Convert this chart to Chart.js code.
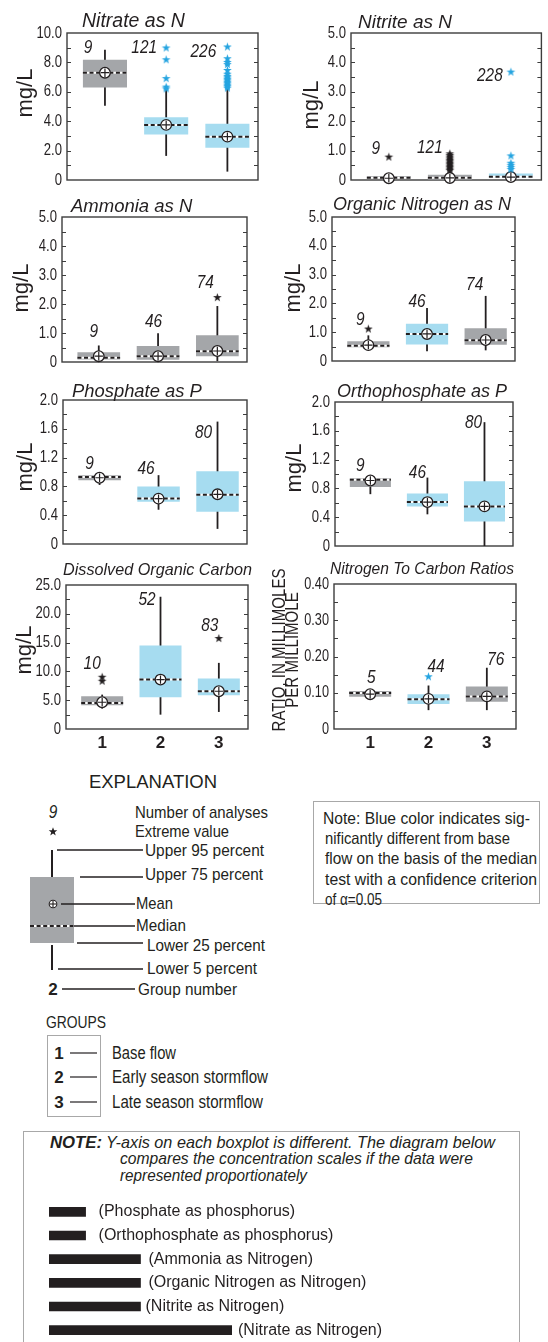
<!DOCTYPE html>
<html>
<head>
<meta charset="utf-8">
<script src="https://cdn.jsdelivr.net/npm/chart.js@4.4.1/dist/chart.umd.min.js"></script>
<style>
  html, body { margin: 0; padding: 0; background: #fff; }
  #page { position: relative; width: 548px; height: 1342px; overflow: hidden; background: #fff; }
  #page canvas { position: absolute; }
  #art { position: absolute; left: 0; top: 0; }
  .noteBox { position: absolute; left: 23px; top: 1131px; width: 497px; height: 230px;
             border: 1px solid #a8a8a8; box-sizing: border-box; }
</style>
</head>
<body>
<div id="page">
  <div class="noteBox"></div>
  <svg id="art" width="548" height="1342" viewBox="0 0 548 1342">
    <g fill="#231f20" font-family="'Liberation Sans',Arial,sans-serif" font-size="17" dominant-baseline="central">
      <!-- explanation key -->
      <text x="153" y="781" text-anchor="middle" font-size="18.5">EXPLANATION</text>
      <text x="53" y="812" text-anchor="middle" font-style="italic" font-size="17.5" transform="translate(53 0) scale(0.88 1) translate(-53 0)">9</text>
      <text x="135" y="812" textLength="133" lengthAdjust="spacingAndGlyphs">Number of analyses</text>
      <path d="M53,827.2 L54.1,830.2 L57.3,830.3 L54.8,832.3 L55.7,835.4 L53,833.6 L50.3,835.4 L51.2,832.3 L48.7,830.3 L51.9,830.2 Z"/>
      <text x="135" y="831" textLength="94" lengthAdjust="spacingAndGlyphs">Extreme value</text>
      <rect x="30" y="877" width="44" height="66" fill="#a4a6a9"/>
      <g stroke="#231f20" stroke-width="2">
        <line x1="52" y1="850" x2="52" y2="877"/>
        <line x1="52" y1="945" x2="52" y2="970"/>
      </g>
      <line x1="30" y1="926" x2="74" y2="926" stroke="#fff" stroke-width="2"/>
      <line x1="30" y1="926" x2="74" y2="926" stroke="#231f20" stroke-width="2" stroke-dasharray="4 2.6"/>
      <circle cx="53" cy="904" r="3.8" fill="#fff" stroke="#231f20" stroke-width="1.1"/>
      <g stroke="#231f20" stroke-width="1.1">
        <line x1="50" y1="904" x2="56" y2="904"/>
        <line x1="53" y1="901" x2="53" y2="907"/>
      </g>
      <g stroke="#231f20" stroke-width="1.3">
        <line x1="57" y1="850" x2="143" y2="850"/>
        <line x1="80" y1="877" x2="143" y2="877"/>
        <line x1="61" y1="904" x2="135" y2="904"/>
        <line x1="74" y1="926" x2="135" y2="926"/>
        <line x1="77" y1="943" x2="143" y2="943"/>
        <line x1="58" y1="969" x2="143" y2="969"/>
        <line x1="62" y1="989" x2="135" y2="989"/>
      </g>
      <text x="145" y="850" textLength="119" lengthAdjust="spacingAndGlyphs">Upper 95 percent</text>
      <text x="145" y="874" textLength="118" lengthAdjust="spacingAndGlyphs">Upper 75 percent</text>
      <text x="136" y="903" textLength="37" lengthAdjust="spacingAndGlyphs">Mean</text>
      <text x="136" y="925" textLength="50" lengthAdjust="spacingAndGlyphs">Median</text>
      <text x="147" y="945" textLength="118" lengthAdjust="spacingAndGlyphs">Lower 25 percent</text>
      <text x="147" y="968" textLength="110" lengthAdjust="spacingAndGlyphs">Lower 5 percent</text>
      <text x="53" y="989" text-anchor="middle" font-weight="bold">2</text>
      <text x="138" y="989" textLength="99" lengthAdjust="spacingAndGlyphs">Group number</text>

      <!-- significance note -->
      <rect x="313.5" y="801.5" width="226" height="102" fill="none" stroke="#a8a8a8" stroke-width="1"/>
      <g font-size="16.5">
        <text x="323" y="818" textLength="207" lengthAdjust="spacingAndGlyphs">Note:  Blue color indicates sig-</text>
        <text x="325" y="838" textLength="185" lengthAdjust="spacingAndGlyphs">nificantly different from base</text>
        <text x="325" y="858" textLength="212" lengthAdjust="spacingAndGlyphs">flow on the basis of the median</text>
        <text x="325" y="879" textLength="212" lengthAdjust="spacingAndGlyphs">test with a confidence criterion</text>
        <text x="325" y="899" textLength="57" lengthAdjust="spacingAndGlyphs">of α=0.05</text>
      </g>

      <!-- groups key -->
      <text x="46" y="1022" textLength="60" lengthAdjust="spacingAndGlyphs">GROUPS</text>
      <rect x="47.5" y="1035.5" width="53" height="81" fill="none" stroke="#a8a8a8" stroke-width="1"/>
      <g font-weight="bold" text-anchor="middle">
        <text x="59" y="1053">1</text>
        <text x="59" y="1077">2</text>
        <text x="59" y="1102">3</text>
      </g>
      <g stroke="#231f20" stroke-width="1.2">
        <line x1="70" y1="1053" x2="97" y2="1053"/>
        <line x1="70" y1="1077" x2="97" y2="1077"/>
        <line x1="70" y1="1102" x2="97" y2="1102"/>
      </g>
      <g font-size="17.5">
        <text x="112" y="1053" textLength="64" lengthAdjust="spacingAndGlyphs">Base flow</text>
        <text x="112" y="1077" textLength="156" lengthAdjust="spacingAndGlyphs">Early season stormflow</text>
        <text x="112" y="1102" textLength="151" lengthAdjust="spacingAndGlyphs">Late season stormflow</text>
      </g>

      <!-- scale note -->
      <text x="50" y="1142" font-weight="bold" font-style="italic" textLength="52" lengthAdjust="spacingAndGlyphs">NOTE:</text>
      <g font-style="italic" font-size="17">
        <text x="106" y="1142" textLength="389" lengthAdjust="spacingAndGlyphs">Y-axis on each boxplot is different. The diagram below</text>
        <text x="120" y="1158" textLength="353" lengthAdjust="spacingAndGlyphs">compares the concentration scales if the data were</text>
        <text x="120" y="1175" textLength="187" lengthAdjust="spacingAndGlyphs">represented proportionately</text>
      </g>
    </g>
  </svg>
</div>
<script>
// ---------------------------------------------------------------------------
// Data: each box is [lower 5, lower 25, median, upper 75, upper 95] percent.
// Extreme values are [group, value, significant].
// ---------------------------------------------------------------------------
const groupNumbers = [1, 2, 3];

const nitrateBox = [[5.05, 6.30, 7.30, 8.18, 8.86], [1.64, 3.09, 3.75, 4.27, 6.14], [0.57, 2.20, 2.95, 3.82, 6.20]];
const nitrateMean = [7.30, 3.75, 2.95];
const nitrateCount = [9, 121, 226];
const nitrateSignificant = [0, 1, 1];
const nitrateExtremes = [[2, 8.98, 1], [2, 8.18, 1], [2, 6.90, 1], [2, 6.32, 1], [2, 6.20, 1],
  [3, 9.05, 1], [3, 8.25, 1], [3, 8.00, 1], [3, 7.85, 1], [3, 7.45, 1], [3, 7.20, 1], [3, 7.05, 1],
  [3, 6.95, 1], [3, 6.85, 1], [3, 6.75, 1], [3, 6.65, 1], [3, 6.55, 1], [3, 6.45, 1], [3, 6.35, 1], [3, 6.25, 1]];
const nitrateTicks = ['0', '2.0', '4.0', '6.0', '8.0', '10.0'];

const nitriteBox = [[0.01, 0.03, 0.08, 0.14, 0.18], [0.01, 0.02, 0.08, 0.18, 0.28], [0.02, 0.08, 0.11, 0.22, 0.27]];
const nitriteMean = [0.06, 0.07, 0.10];
const nitriteCount = [9, 121, 228];
const nitriteSignificant = [0, 0, 1];
const nitriteExtremes = [[1, 0.78, 0],
  [2, 0.89, 0], [2, 0.83, 0], [2, 0.78, 0], [2, 0.72, 0], [2, 0.67, 0], [2, 0.62, 0], [2, 0.57, 0],
  [2, 0.52, 0], [2, 0.47, 0], [2, 0.42, 0], [2, 0.37, 0], [2, 0.32, 0],
  [3, 3.67, 1], [3, 0.82, 1], [3, 0.57, 1], [3, 0.50, 1], [3, 0.43, 1], [3, 0.36, 1]];
const nitriteTicks = ['0', '1.0', '2.0', '3.0', '4.0', '5.0'];

const ammoniaBox = [[0.03, 0.09, 0.15, 0.34, 0.57], [0.03, 0.08, 0.20, 0.55, 0.99], [0.03, 0.20, 0.37, 0.92, 1.93]];
const ammoniaMean = [0.20, 0.20, 0.38];
const ammoniaCount = [9, 46, 74];
const ammoniaSignificant = [0, 0, 0];
const ammoniaExtremes = [[3, 2.22, 0]];
const ammoniaTicks = ['0', '1.0', '2.0', '3.0', '4.0', '5.0'];

const organicBox = [[0.37, 0.48, 0.53, 0.69, 0.89], [0.34, 0.57, 0.94, 1.29, 1.84], [0.37, 0.56, 0.72, 1.14, 2.26]];
const organicMean = [0.55, 0.94, 0.73];
const organicCount = [9, 46, 74];
const organicSignificant = [0, 1, 0];
const organicExtremes = [[1, 1.11, 0]];
const organicTicks = ['0', '1.0', '2.0', '3.0', '4.0', '5.0'];

const phosphateBox = [[0.82, 0.887, 0.93, 0.956, 0.98], [0.476, 0.587, 0.633, 0.80, 0.956], [0.21, 0.448, 0.684, 1.01, 1.70]];
const phosphateMean = [0.92, 0.63, 0.69];
const phosphateCount = [9, 46, 80];
const phosphateSignificant = [0, 1, 1];
const phosphateExtremes = [];
const phosphateTicks = ['0', '0.4', '0.8', '1.2', '1.6', '2.0'];

const orthoBox = [[0.72, 0.82, 0.92, 0.94, 0.96], [0.44, 0.55, 0.61, 0.73, 0.95], [0.00, 0.34, 0.55, 0.90, 1.72]];
const orthoMean = [0.91, 0.61, 0.55];
const orthoCount = [9, 46, 80];
const orthoSignificant = [0, 1, 1];
const orthoExtremes = [];
const orthoTicks = ['0', '0.4', '0.8', '1.2', '1.6', '2.0'];

const carbonBox = [[3.54, 4.12, 4.52, 5.68, 5.97], [2.49, 5.50, 8.58, 14.5, 22.96], [2.96, 5.86, 6.55, 8.75, 11.48]];
const carbonMean = [4.64, 8.58, 6.55];
const carbonCount = [10, 52, 83];
const carbonSignificant = [0, 1, 1];
const carbonExtremes = [[1, 8.99, 0], [1, 8.30, 0], [3, 15.71, 0]];
const carbonTicks = ['0', '5.0', '10.0', '15.0', '20.0', '25.0'];

const ratioBox = [[0.086, 0.089, 0.099, 0.105, 0.107], [0.052, 0.069, 0.082, 0.096, 0.120], [0.052, 0.075, 0.090, 0.117, 0.169]];
const ratioMean = [0.096, 0.083, 0.090];
const ratioCount = [5, 44, 76];
const ratioSignificant = [0, 1, 0];
const ratioExtremes = [[2, 0.144, 1]];
const ratioTicks = ['0', '0.10', '0.20', '0.30', '0.40'];

// Full y-axis range of each boxplot, compared on one scale
const scaleNames = ['(Phosphate as phosphorus)', '(Orthophosphate as phosphorus)', '(Ammonia as Nitrogen)',
  '(Organic Nitrogen as Nitrogen)', '(Nitrite as Nitrogen)', '(Nitrate as Nitrogen)'];
const scaleMax = [2.0, 2.0, 5.0, 5.0, 5.0, 10.0];

// ---------------------------------------------------------------------------
// Styling
// ---------------------------------------------------------------------------
const SANS = '"Liberation Sans", Arial, sans-serif';
const INK = '#231f20';
const FRAME = '#3d3d3d';
const GRAY_BOX = '#a4a6a9';
const BLUE_BOX = '#a6dcf0';
const BLUE_STAR = '#25a4e0';

function starGlyph(color) {
  const c = document.createElement('canvas');
  c.width = 11; c.height = 11;
  const g = c.getContext('2d');
  g.fillStyle = color;
  g.beginPath();
  for (let k = 0; k < 10; k++) {
    const r = k % 2 ? 1.8 : 4.6;
    const a = -Math.PI / 2 + k * Math.PI / 5;
    g.lineTo(5.5 + r * Math.cos(a), 5.5 + r * Math.sin(a));
  }
  g.closePath();
  g.fill();
  return c;
}
const STAR_BLACK = starGlyph(INK);
const STAR_BLUE = starGlyph(BLUE_STAR);

// Condensed text: a regular face squeezed horizontally
function squeezedText(ctx, text, x, y, font, sx, align, rotate) {
  ctx.save();
  ctx.translate(x, y);
  if (rotate) ctx.rotate(-Math.PI / 2);
  ctx.scale(sx, 1);
  ctx.font = font;
  ctx.textAlign = align;
  ctx.textBaseline = 'middle';
  ctx.fillText(text, 0, 0);
  ctx.restore();
}

// Panel layout: frame = plot rectangle [l, t, r, b]; canvas = [left, top, width]
const panels = [
  { name: 'Nitrate as N', box: nitrateBox, mean: nitrateMean, count: nitrateCount, sig: nitrateSignificant,
    ext: nitrateExtremes, ticks: nitrateTicks, frame: [67, 33, 258, 180], canvas: [0, 0, 270],
    axisTitleAt: [26, 93], titleAt: [82, 22], titleSize: 19.5,
    nudge: [[-17, -2], [-22, 0], [-24, 5]], groupAxis: false },
  { name: 'Nitrite as N', box: nitriteBox, mean: nitriteMean, count: nitriteCount, sig: nitriteSignificant,
    ext: nitriteExtremes, ticks: nitriteTicks, frame: [351, 33, 542, 180], canvas: [270, 0, 278],
    axisTitleAt: [312, 105], titleAt: [358, 23], titleSize: 19,
    nudge: [[-13, -8], [-20, -6], [-21, 4]], groupAxis: false },
  { name: 'Ammonia as N', box: ammoniaBox, mean: ammoniaMean, count: ammoniaCount, sig: ammoniaSignificant,
    ext: ammoniaExtremes, ticks: ammoniaTicks, frame: [62, 217, 247, 362], canvas: [0, 190, 270],
    axisTitleAt: [22, 288], titleAt: [71, 207], titleSize: 18.5,
    nudge: [[-5, -13], [-4.5, -11], [-12, -14.5]], groupAxis: false },
  { name: 'Organic Nitrogen as N', box: organicBox, mean: organicMean, count: organicCount, sig: organicSignificant,
    ext: organicExtremes, ticks: organicTicks, frame: [332, 217, 515, 361], canvas: [270, 190, 278],
    axisTitleAt: [294, 288], titleAt: [333, 205], titleSize: 18,
    nudge: [[-8, -9], [-10, -6], [-11, -11]], groupAxis: false },
  { name: 'Phosphate as P', box: phosphateBox, mean: phosphateMean, count: phosphateCount, sig: phosphateSignificant,
    ext: phosphateExtremes, ticks: phosphateTicks, frame: [63, 400, 247, 544], canvas: [0, 375, 270],
    axisTitleAt: [26, 467], titleAt: [72, 392], titleSize: 18.4,
    nudge: [[-10, -9], [-12.5, -6], [-14, 12]], groupAxis: false },
  { name: 'Orthophosphate as P', box: orthoBox, mean: orthoMean, count: orthoCount, sig: orthoSignificant,
    ext: orthoExtremes, ticks: orthoTicks, frame: [335, 402, 513, 546], canvas: [270, 375, 278],
    axisTitleAt: [294.5, 468], titleAt: [337, 392], titleSize: 18,
    nudge: [[-10, -11], [-10, -4], [-11, 1]], groupAxis: false },
  { name: 'Dissolved Organic Carbon', box: carbonBox, mean: carbonMean, count: carbonCount, sig: carbonSignificant,
    ext: carbonExtremes, ticks: carbonTicks, frame: [66, 585, 248, 729], canvas: [0, 552, 270],
    axisTitleAt: [25, 650], titleAt: [63, 570], titleSize: 16.2,
    nudge: [[-10, -13], [-13.5, 3], [-9, -12]], groupAxis: true },
  { name: 'Nitrogen To Carbon Ratios', box: ratioBox, mean: ratioMean, count: ratioCount, sig: ratioSignificant,
    ext: ratioExtremes, ticks: ratioTicks, frame: [334, 584, 516, 729], canvas: [270, 552, 278],
    axisTitleAt: [280, 650], titleAt: [330, 570], titleSize: 15.6, tickSize: 16.5,
    axisTitle: ['RATIO, IN MILLIMOLES', 'PER MILLIMOLE'],
    nudge: [[1, -12], [7.5, -10], [9, -8]], groupAxis: true }
];

// Frame, inward ticks, tick labels, dashed medians, counts and titles
const boxDecor = {
  id: 'boxDecor',
  beforeDatasetsDraw(chart, args, o) {
    const { ctx, chartArea: a, scales: { y } } = chart;
    ctx.save();
    ctx.strokeStyle = FRAME;
    ctx.lineWidth = 1.2;
    y.ticks.forEach(t => {
      const py = Math.round(y.getPixelForValue(t.value)) + 0.5;
      if (py < a.top + 2 || py > a.bottom - 2) return;
      ctx.beginPath();
      ctx.moveTo(a.left, py); ctx.lineTo(a.left + 4, py);
      ctx.moveTo(a.right, py); ctx.lineTo(a.right - 4, py);
      ctx.stroke();
    });
    ctx.lineWidth = 1.4;
    ctx.strokeRect(a.left, a.top, a.right - a.left, a.bottom - a.top);
    ctx.restore();
  },
  afterDatasetDraw(chart, args, o) {
    if (args.index !== 1) return;
    const { ctx, scales: { y } } = chart;
    const bars = chart.getDatasetMeta(1).data;
    ctx.save();
    ctx.lineWidth = 2;
    bars.forEach((bar, i) => {
      const py = y.getPixelForValue(o.medians[i]);
      const x0 = bar.x - bar.width / 2, x1 = bar.x + bar.width / 2;
      ctx.setLineDash([]);
      ctx.strokeStyle = '#ffffff';
      ctx.beginPath(); ctx.moveTo(x0, py); ctx.lineTo(x1, py); ctx.stroke();
      ctx.setLineDash([4, 2.6]);
      ctx.strokeStyle = INK;
      ctx.beginPath(); ctx.moveTo(x0, py); ctx.lineTo(x1, py); ctx.stroke();
    });
    ctx.restore();
  },
  afterDraw(chart, args, o) {
    const { ctx, chartArea: a, scales: { x, y } } = chart;
    ctx.save();
    ctx.fillStyle = INK;
    // y tick labels
    y.ticks.forEach(t => {
      const k = o.majors.findIndex(m => Math.abs(m - t.value) < 1e-9);
      if (k < 0) return;
      squeezedText(ctx, o.tickLabels[k], a.left - 5, y.getPixelForValue(t.value),
        `${o.tickSize}px ${SANS}`, 0.77, 'right');
    });
    // y axis title
    const lines = Array.isArray(o.axisTitle) ? o.axisTitle : [o.axisTitle];
    lines.forEach((s, j) => {
      if (lines.length > 1) {
        squeezedText(ctx, s, o.axisTitleX + j * 13.5, o.axisTitleY, `18px ${SANS}`, 0.837, 'center', true);
      } else {
        squeezedText(ctx, s, o.axisTitleX, o.axisTitleY, `22px ${SANS}`, 1, 'center', true);
      }
    });
    // group numbers
    if (o.groupAxis) {
      groupNumbers.forEach(g => {
        squeezedText(ctx, String(g), x.getPixelForValue(g), a.bottom + 14, `bold 17px ${SANS}`, 1, 'center');
      });
    }
    // number of analyses
    o.counts.forEach((n, i) => {
      const px = x.getPixelForValue(groupNumbers[i]) + o.nudge[i][0];
      const py = y.getPixelForValue(o.tops[i]) + o.nudge[i][1];
      squeezedText(ctx, String(n), px, py, `italic 17.5px ${SANS}`, 0.88, 'center');
    });
    // panel title
    squeezedText(ctx, o.title, o.titleX, o.titleY, `italic ${o.titleSize}px ${SANS}`, 1, 'left');
    ctx.restore();
  }
};

const page = document.getElementById('page');

panels.forEach(p => {
  const [l, t, r, b] = p.frame;
  const [cl, ct, cw] = p.canvas;
  const xH = p.groupAxis ? 28 : 12;
  const W = cw, H = b - ct + xH;
  const cv = document.createElement('canvas');
  cv.width = W; cv.height = H;
  cv.style.left = cl + 'px'; cv.style.top = ct + 'px';
  cv.style.width = W + 'px'; cv.style.height = H + 'px';
  page.appendChild(cv);

  const majors = p.ticks.map(Number);
  const yMax = majors[majors.length - 1];
  const step = majors[1] / 2;
  const nSteps = Math.round(yMax / step);

  const tops = groupNumbers.map((g, i) =>
    Math.max(p.box[i][4], ...p.ext.filter(e => e[0] === g).map(e => e[1])));
  const means = groupNumbers.map((g, i) => ({ x: g, y: p.mean[i] }));

  new Chart(cv, {
    type: 'bar',
    data: {
      datasets: [
        { data: groupNumbers.map((g, i) => ({ x: g, y: [p.box[i][0], p.box[i][4]] })),
          backgroundColor: INK, maxBarThickness: 1.8, grouped: false, order: 5 },
        { data: groupNumbers.map((g, i) => ({ x: g, y: [p.box[i][1], p.box[i][3]] })),
          backgroundColor: p.sig.map(s => s ? BLUE_BOX : GRAY_BOX),
          barPercentage: 0.72, categoryPercentage: 1, grouped: false, order: 4 },
        { type: 'line', data: means, showLine: false, pointStyle: 'circle', pointRadius: 5.3,
          pointBackgroundColor: '#ffffff', pointBorderColor: INK, pointBorderWidth: 1.3, clip: false, order: 3 },
        { type: 'line', data: means, showLine: false, pointStyle: 'cross', pointRadius: 4.2,
          pointBorderColor: INK, pointBorderWidth: 1.2, clip: false, order: 2 },
        { type: 'line', data: p.ext.filter(e => !e[2]).map(e => ({ x: e[0], y: e[1] })), showLine: false,
          pointStyle: STAR_BLACK, pointRadius: 4, clip: false, order: 1 },
        { type: 'line', data: p.ext.filter(e => e[2]).map(e => ({ x: e[0], y: e[1] })), showLine: false,
          pointStyle: STAR_BLUE, pointRadius: 4, clip: false, order: 0 }
      ]
    },
    options: {
      responsive: false,
      animation: false,
      devicePixelRatio: 1,
      events: [],
      layout: { padding: { top: t - ct, right: (cl + cw) - r, left: 0, bottom: 0 } },
      plugins: {
        legend: { display: false },
        tooltip: { enabled: false },
        boxDecor: {
          medians: p.box.map(v => v[2]), counts: p.count, tops, nudge: p.nudge,
          majors, tickLabels: p.ticks, tickSize: p.tickSize || 17,
          axisTitle: p.axisTitle || 'mg/L', axisTitleX: p.axisTitleAt[0] - cl, axisTitleY: p.axisTitleAt[1] - ct,
          groupAxis: p.groupAxis,
          title: p.name, titleSize: p.titleSize, titleX: p.titleAt[0] - cl, titleY: p.titleAt[1] - ct
        }
      },
      scales: {
        x: {
          type: 'linear', min: 0.38, max: 3.5, offset: false,
          grid: { display: false }, border: { display: false },
          afterBuildTicks: s => { s.ticks = groupNumbers.map(v => ({ value: v })); },
          afterFit: s => { s.height = xH; },
          ticks: { display: false }
        },
        y: {
          type: 'linear', min: 0, max: yMax,
          grid: { display: false }, border: { display: false },
          afterBuildTicks: s => {
            s.ticks = Array.from({ length: nSteps + 1 }, (_, k) => ({ value: +(k * step).toFixed(6) }));
          },
          afterFit: s => { s.width = l - cl; },
          ticks: { display: false }
        }
      }
    },
    plugins: [boxDecor]
  });
});

// Proportional comparison of the y-axis ranges
const scaleLabels = {
  id: 'scaleLabels',
  afterDatasetsDraw(chart, args, o) {
    const { ctx } = chart;
    ctx.save();
    ctx.fillStyle = INK;
    ctx.font = `16px ${SANS}`;
    ctx.textBaseline = 'middle';
    chart.getDatasetMeta(0).data.forEach((bar, i) => {
      ctx.fillText(scaleNames[i], bar.x + o.gaps[i], bar.y);
    });
    ctx.restore();
  }
};

const sc = document.createElement('canvas');
sc.width = 548; sc.height = 144;
sc.style.left = '0px'; sc.style.top = '1198px';
sc.style.width = '548px'; sc.style.height = '144px';
page.appendChild(sc);
new Chart(sc, {
  type: 'bar',
  data: {
    labels: scaleNames,
    datasets: [{ data: scaleMax, backgroundColor: INK, barThickness: 9 }]
  },
  options: {
    indexAxis: 'y',
    responsive: false,
    animation: false,
    devicePixelRatio: 1,
    events: [],
    layout: { padding: { left: 49, right: 316, top: 2, bottom: 0 } },
    plugins: {
      legend: { display: false },
      tooltip: { enabled: false },
      scaleLabels: { gaps: [13, 13, 8, 8, 5, 6] }
    },
    scales: {
      x: { type: 'linear', min: 0, max: 10, display: false },
      y: { display: false }
    }
  },
  plugins: [scaleLabels]
});
</script>
</body>
</html>
